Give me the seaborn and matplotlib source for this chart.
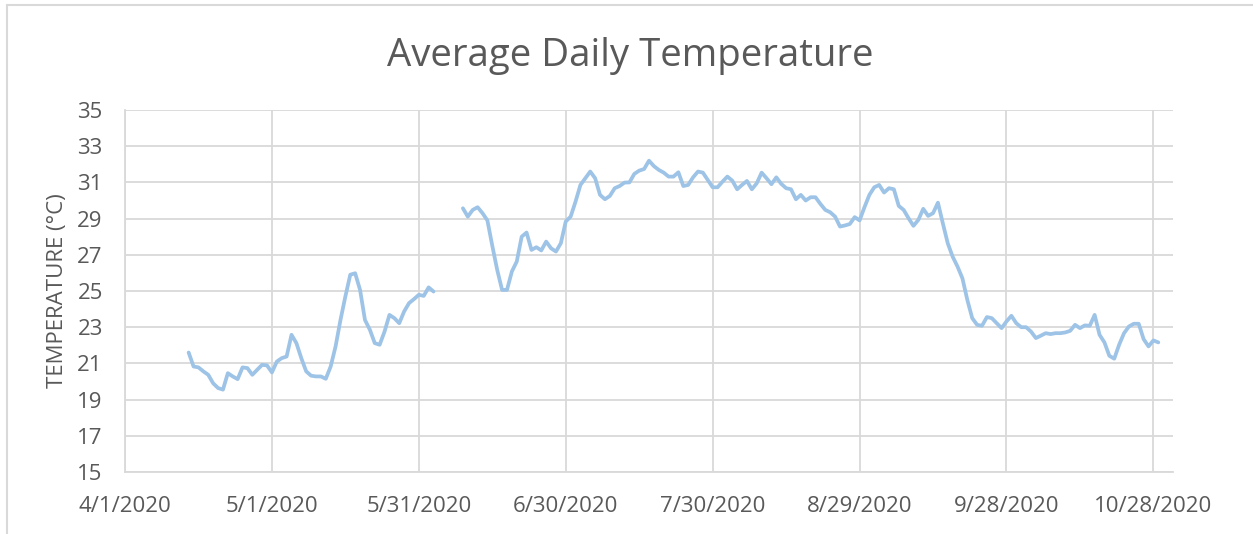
import matplotlib.pyplot as plt
from matplotlib.lines import Line2D
import pandas as pd
import seaborn as sns

# daily averages, spring segment (starts 4/14/2020)
spring_start = "2020-04-14"
spring_temps = [
    21.60, 20.83, 20.78, 20.56, 20.37, 19.90, 19.64, 19.55, 20.46, 20.28,
    20.13, 20.78, 20.74, 20.37, 20.65, 20.92, 20.89, 20.50, 21.10, 21.29,
    21.38, 22.58, 22.12, 21.29, 20.56, 20.32, 20.28, 20.28, 20.15, 20.83,
    21.94, 23.40, 24.70, 25.90, 25.98, 25.06, 23.40, 22.86, 22.12, 22.03,
    22.76, 23.68, 23.50, 23.22, 23.87, 24.33, 24.55, 24.79, 24.73, 25.20,
    24.97,
]

# daily averages, summer/fall segment (starts 6/9/2020)
summer_start = "2020-06-09"
summer_temps = [
    29.57, 29.11, 29.48, 29.63, 29.30, 28.90, 27.50, 26.17, 25.06, 25.06,
    26.08, 26.63, 28.00, 28.23, 27.27, 27.42, 27.24, 27.73, 27.36, 27.18,
    27.64, 28.84, 29.11, 29.94, 30.86, 31.23, 31.60, 31.23, 30.31, 30.07,
    30.25, 30.68, 30.80, 30.99, 31.00, 31.47, 31.65, 31.74, 32.20, 31.90,
    31.69, 31.54, 31.32, 31.32, 31.56, 30.80, 30.86, 31.28, 31.60, 31.54,
    31.14, 30.73, 30.73, 31.04, 31.32, 31.10, 30.62, 30.86, 31.08, 30.62,
    30.95, 31.54, 31.23, 30.90, 31.28, 30.92, 30.68, 30.62, 30.07, 30.31,
    30.00, 30.18, 30.18, 29.81, 29.48, 29.35, 29.11, 28.56, 28.62, 28.70,
    29.08, 28.90, 29.63, 30.31, 30.73, 30.86, 30.44, 30.68, 30.62, 29.70,
    29.48, 29.02, 28.60, 28.93, 29.54, 29.15, 29.30, 29.88, 28.74, 27.64,
    26.90, 26.35, 25.70, 24.51, 23.50, 23.13, 23.08, 23.56, 23.50, 23.22,
    22.95, 23.32, 23.63, 23.22, 23.00, 23.00, 22.76, 22.40, 22.53, 22.67,
    22.62, 22.67, 22.67, 22.71, 22.80, 23.13, 22.95, 23.10, 23.08, 23.68,
    22.58, 22.16, 21.42, 21.26, 22.03, 22.67, 23.04, 23.19, 23.19, 22.34,
    21.94, 22.27, 22.16,
]

x_ticks = pd.date_range("2020-04-01", periods=8, freq="30D")
y_ticks = list(range(15, 36, 2))

spring = pd.DataFrame({
    "date": pd.date_range(spring_start, periods=len(spring_temps), freq="D"),
    "temp": spring_temps,
    "segment": "spring",
})
summer = pd.DataFrame({
    "date": pd.date_range(summer_start, periods=len(summer_temps), freq="D"),
    "temp": summer_temps,
    "segment": "summer",
})
df = pd.concat([spring, summer], ignore_index=True)

sns.set_style("white")
plt.rcParams["font.family"] = ["Open Sans", "DejaVu Sans"]

text_color = "#595959"
grid_color = "#D9D9D9"

fig = plt.figure(figsize=(12.53, 5.34), dpi=100)
ax = fig.add_axes([125 / 1253, 62 / 534, 1048 / 1253, 362 / 534])

sns.lineplot(
    data=df,
    x="date",
    y="temp",
    units="segment",
    estimator=None,
    color="#9DC3E6",
    linewidth=2.7,
    ax=ax,
)

ax.set_xlim(pd.Timestamp("2020-04-01"), pd.Timestamp("2020-11-01"))
ax.set_ylim(15, 35)
ax.set_xticks(x_ticks)
ax.set_xticklabels([f"{d.month}/{d.day}/{d.year}" for d in x_ticks])
ax.set_yticks(y_ticks)

ax.grid(True, color=grid_color, linewidth=1.3)
ax.set_axisbelow(True)
for side in ["top", "right"]:
    ax.spines[side].set_visible(False)
for side in ["left", "bottom"]:
    ax.spines[side].set_color(grid_color)
    ax.spines[side].set_linewidth(1.3)

ax.tick_params(axis="both", length=0, labelsize=16, colors=text_color)
ax.tick_params(axis="x", pad=17)
ax.tick_params(axis="y", pad=16)

ax.set_xlabel("")
ax.set_ylabel("TEMPERATURE (°C)", fontsize=16, color=text_color, labelpad=7)

fig.text(0.503, 0.895, "Average Daily Temperature",
         ha="center", va="center", fontsize=27.6, color=text_color)

# chart border (left and top edges visible in the crop)
fig.add_artist(Line2D([7 / 1253, 7 / 1253], [0, 1 - 5 / 534],
                      color=grid_color, linewidth=1.5))
fig.add_artist(Line2D([7 / 1253, 1], [1 - 5 / 534, 1 - 5 / 534],
                      color=grid_color, linewidth=1.5))

plt.savefig("out.png", dpi=100)
plt.close()
